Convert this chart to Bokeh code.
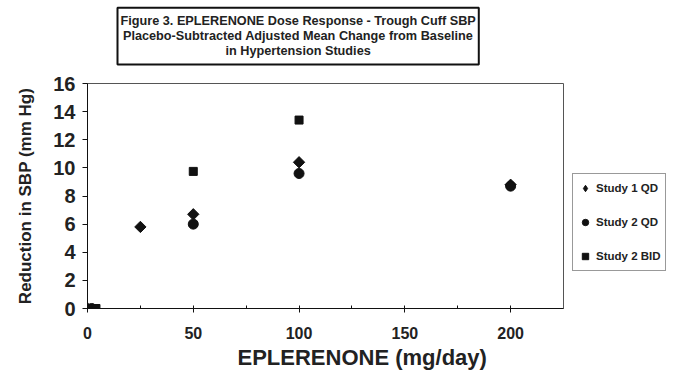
from bokeh.plotting import figure
from bokeh.models import Range1d, Legend, LegendItem, Title, FixedTicker
from bokeh.embed import file_html
from bokeh.resources import INLINE

# ---- data ----
dose_s1qd = [0, 25, 50, 100, 200]
sbp_s1qd = [0.0, 5.8, 6.7, 10.4, 8.8]

dose_s2qd = [2, 50, 100, 200]
sbp_s2qd = [0.0, 6.0, 9.6, 8.7]

dose_s2bid = [4, 50, 100]
sbp_s2bid = [0.0, 9.75, 13.4]

series_names = ["Study 1 QD", "Study 2 QD", "Study 2 BID"]
x_ticks = [0, 50, 100, 150, 200]
x_minor_ticks = [25, 75, 125, 175]
y_ticks = [0, 2, 4, 6, 8, 10, 12, 14, 16]

title_lines = [
    "Figure 3. EPLERENONE Dose Response - Trough Cuff SBP",
    "Placebo-Subtracted Adjusted Mean Change from Baseline",
    "in Hypertension Studies",
]
x_label = "EPLERENONE (mg/day)"
y_label = "Reduction in SBP (mm Hg)"

FONT = "Liberation Sans"
TXT = "#222222"
INK = "#111111"

p = figure(frame_width=476, frame_height=225, x_range=Range1d(0, 225), y_range=Range1d(0, 16),
           output_backend="svg", toolbar_location=None, title=None,
           min_border_left=87, min_border_right=103, min_border_top=83, min_border_bottom=73)
p.grid.visible = False
p.outline_line_color = "#555555"
p.outline_line_width = 1
p.background_fill_color = "white"
p.border_fill_color = "white"

# x axis
p.xaxis.ticker = FixedTicker(ticks=x_ticks, minor_ticks=x_minor_ticks)
p.xaxis.axis_line_color = INK
p.xaxis.major_tick_line_color = INK
p.xaxis.minor_tick_line_color = INK
p.xaxis.major_tick_in = 3
p.xaxis.major_tick_out = 4
p.xaxis.minor_tick_in = 3
p.xaxis.minor_tick_out = 0
p.xaxis.major_label_text_font = FONT
p.xaxis.major_label_text_font_style = "bold"
p.xaxis.major_label_text_font_size = "16px"
p.xaxis.major_label_text_color = TXT
p.xaxis.major_label_standoff = 14

# y axis
p.yaxis.ticker = FixedTicker(ticks=y_ticks, minor_ticks=[])
p.yaxis.axis_line_color = INK
p.yaxis.major_tick_line_color = INK
p.yaxis.major_tick_in = 0
p.yaxis.major_tick_out = 5
p.yaxis.major_label_text_font = FONT
p.yaxis.major_label_text_font_style = "bold"
p.yaxis.major_label_text_font_size = "20px"
p.yaxis.major_label_text_color = TXT
p.yaxis.major_label_standoff = 7
p.yaxis.axis_label = y_label
p.yaxis.axis_label_text_font = FONT
p.yaxis.axis_label_text_font_style = "bold"
p.yaxis.axis_label_text_font_size = "17px"
p.yaxis.axis_label_text_color = TXT
p.yaxis.axis_label_standoff = 15

# markers
# Study 1 QD: a diamond (used by the legend) under a wider rotated square
r1_key = p.scatter(dose_s1qd, sbp_s1qd, marker="diamond", size=8,
                   fill_color=INK, line_color=INK)
r1 = p.scatter(dose_s1qd, sbp_s1qd, marker="square", angle=0.785398, size=8,
               fill_color=INK, line_color=INK)
r2 = p.scatter(dose_s2qd, sbp_s2qd, marker="circle", size=10,
               fill_color=INK, line_color=INK)
r3 = p.scatter(dose_s2bid, sbp_s2bid, marker="square", size=8,
               fill_color=INK, line_color=INK)

legend = Legend(items=[LegendItem(label=series_names[0], renderers=[r1_key]),
                       LegendItem(label=series_names[1], renderers=[r2]),
                       LegendItem(label=series_names[2], renderers=[r3])],
                location=(9, 37), margin=0, padding=4, spacing=14,
                glyph_width=16, glyph_height=16, label_height=20, label_width=65,
                label_standoff=3,
                label_text_font=FONT, label_text_font_style="bold",
                label_text_font_size="11.5px", label_text_color=TXT,
                border_line_color="#333333", border_line_width=1,
                background_fill_color="white", background_fill_alpha=1)
p.add_layout(legend, "right")

# spacer between the plot box and the boxed title
p.add_layout(Title(text=" ", text_font_size="1px", standoff=11), "above")

# boxed title
title_box = Title(text="\n".join(title_lines), align="left", offset=30, standoff=10,
                  text_font=FONT, text_font_style="bold", text_font_size="12.7px",
                  text_line_height=1.1,
                  text_color=TXT, border_line_color=INK, border_line_width=2,
                  background_fill_color="white", padding=dict(x=3, y=6))
try:
    title_box.text_align = "center"
except Exception:
    pass
p.add_layout(title_box, "above")

# x axis title, offset to the right as in the reference
p.add_layout(Title(text=x_label, align="left", offset=150, standoff=2,
                   text_font=FONT, text_font_style="bold", text_font_size="22px",
                   text_color=TXT), "below")

open("out.html", "w").write(file_html(p, INLINE))
